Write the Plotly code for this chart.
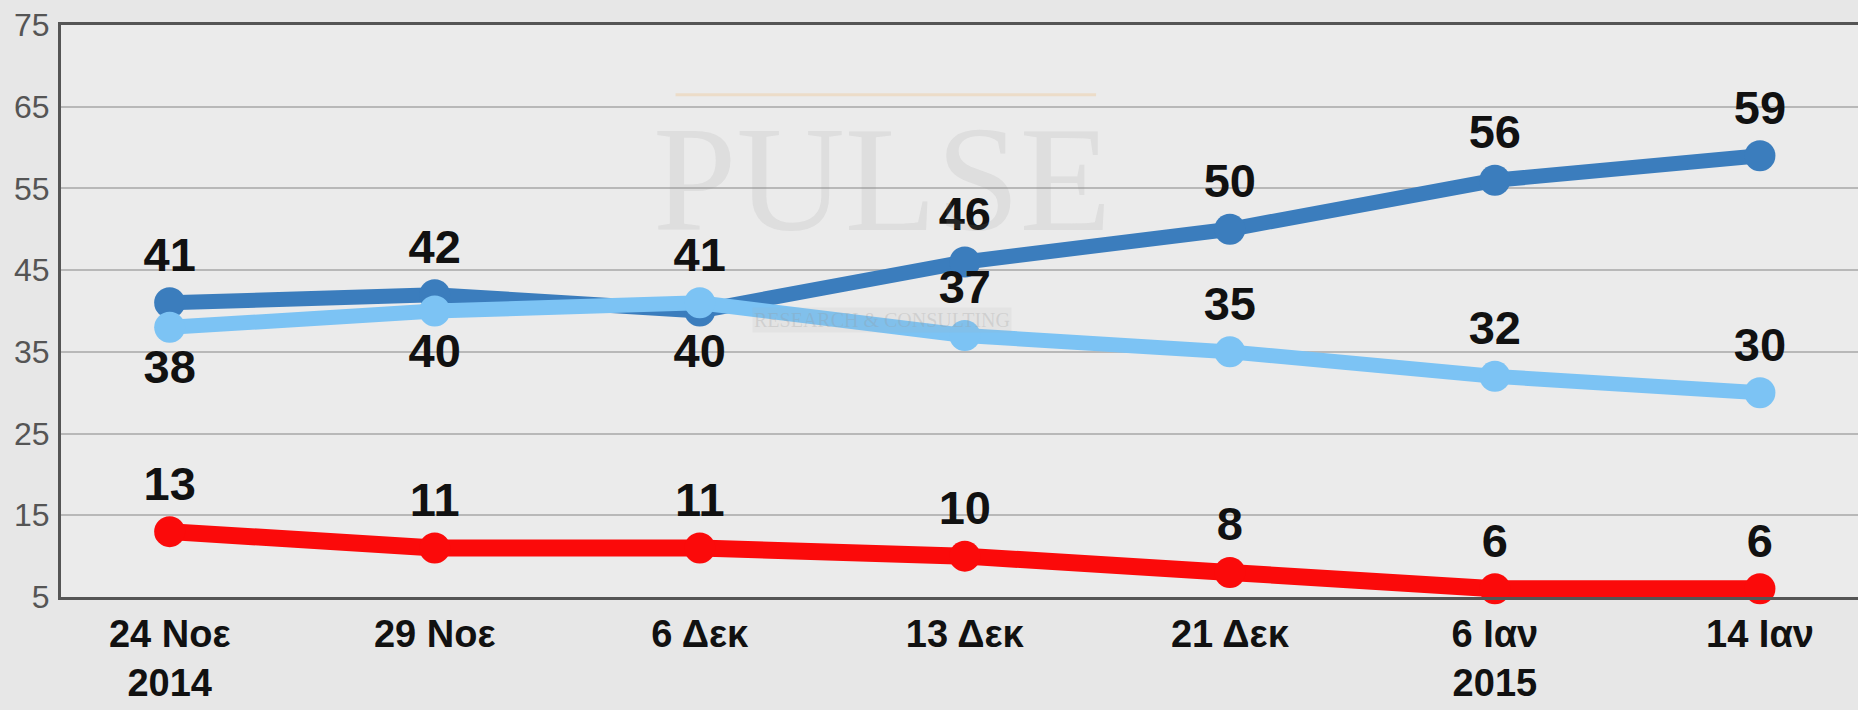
import plotly.graph_objects as go

categories = ["24 Νοε<br>2014", "29 Νοε", "6 Δεκ", "13 Δεκ", "21 Δεκ", "6 Ιαν<br>2015", "14 Ιαν"]
series_dark = [41, 42, 40, 46, 50, 56, 59]
series_light = [38, 40, 41, 37, 35, 32, 30]
series_red = [13, 11, 11, 10, 8, 6, 6]
y_ticks = [5, 15, 25, 35, 45, 55, 65, 75]

pos_dark = ["top center", "top center", "bottom center", "top center", "top center", "top center", "top center"]
pos_light = ["bottom center", "bottom center", "top center", "top center", "top center", "top center", "top center"]
pos_red = ["top center"] * 7

label_font = dict(family="Liberation Sans, Arial, sans-serif", size=47, color="#111111", weight="bold")

fig = go.Figure()
for vals, color, pos, lw in [
    (series_dark, "#3b7dbd", pos_dark, 15),
    (series_light, "#7cc3f4", pos_light, 15),
    (series_red, "#fb0a0a", pos_red, 17),
]:
    fig.add_trace(go.Scatter(
        x=categories, y=vals, mode="lines+markers+text",
        line=dict(color=color, width=lw),
        marker=dict(color=color, size=31),
        text=[str(v) for v in vals], textposition=pos,
        textfont=label_font, cliponaxis=False, hoverinfo="skip",
    ))

# faint watermark (logo)
fig.add_shape(type="line", xref="paper", yref="paper", x0=0.342, x1=0.576, y0=0.878, y1=0.878,
              line=dict(color="rgba(240,185,120,0.30)", width=3), layer="below")
fig.add_annotation(text="PULSE", xref="paper", yref="paper", x=0.457, y=0.73,
                   xanchor="center", yanchor="middle",
                   showarrow=False, font=dict(family="Liberation Serif, serif", size=150, color="rgba(150,150,150,0.15)"))
fig.add_annotation(text="RESEARCH & CONSULTING", xref="paper", yref="paper", x=0.457, y=0.485,
                   xanchor="center", yanchor="middle",
                   showarrow=False, bgcolor="rgba(170,170,170,0.12)",
                   font=dict(family="Liberation Serif, serif", size=20, color="rgba(150,150,150,0.25)"))

fig.update_layout(
    width=1858, height=710,
    margin=dict(l=61, r=0, t=25, b=113),
    paper_bgcolor="#e7e7e7", plot_bgcolor="#ebebeb",
    showlegend=False,
    xaxis=dict(
        type="category", range=[-0.41, 6.37],
        showline=True, linecolor="#555555", linewidth=3, mirror=True,
        showgrid=False, ticks="outside", ticklen=1, tickcolor="rgba(0,0,0,0)",
        tickfont=dict(family="Liberation Sans Narrow, Arial Narrow, Liberation Sans, sans-serif", size=38, color="#111111", weight="bold"),
    ),
    yaxis=dict(
        range=[5, 75], tickvals=y_ticks,
        showline=True, linecolor="#555555", linewidth=3,
        showgrid=True, gridcolor="#b8b8b8", gridwidth=2,
        zeroline=False, ticks="", ticklabelstandoff=2,
        tickfont=dict(family="Liberation Sans Narrow, Liberation Sans, sans-serif", size=32, color="#555555"),
    ),
)

fig.write_html("out.html", config={"displayModeBar": False},
               post_script="document.body.style.margin='0';document.body.style.overflow='hidden';")
